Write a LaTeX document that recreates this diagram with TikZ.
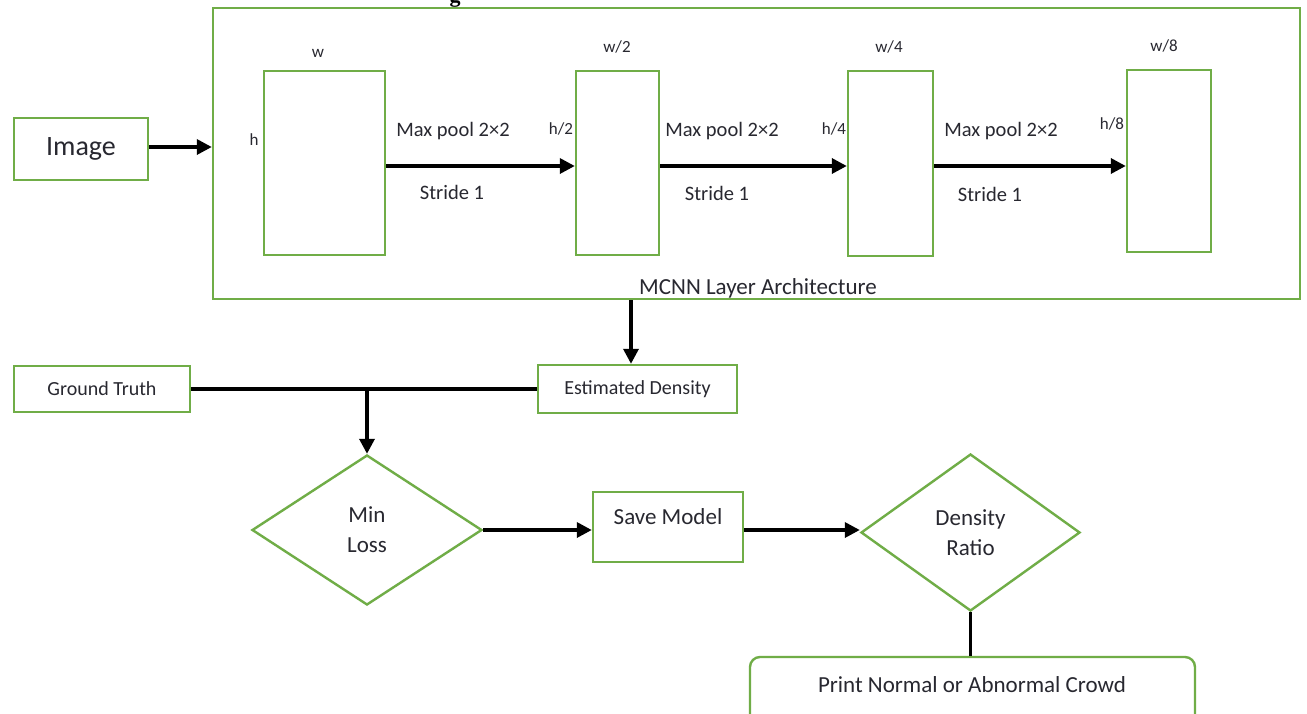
\documentclass[tikz,border=0pt]{standalone}
\usepackage{fontspec}
\setmainfont{Carlito}
\newfontfamily\capfont{Liberation Serif}
\usetikzlibrary{arrows.meta,shapes.geometric}
\definecolor{boxgreen}{RGB}{112,173,71}
\definecolor{ink}{RGB}{40,40,48}
\newcommand{\fsz}[1]{\fontsize{#1}{#1}\selectfont}
\tikzset{
  gbox/.style={draw=boxgreen, line width=2.4pt, rectangle, inner sep=0pt, text=ink},
  gdia/.style={draw=boxgreen, line width=2.4pt, diamond, inner sep=0pt, text=ink, align=center},
  lbl/.style={inner sep=0pt, text=ink},
  arr/.style={line width=3.4pt, -{Triangle[length=15pt,width=15pt]}},
  plain/.style={line width=3.4pt},
}
\begin{document}
\begin{tikzpicture}[x=1pt,y=-1pt]
\useasboundingbox (0,0) rectangle (1307,713);
\fill[white] (0,0) rectangle (1307,713);

% caption fragment above the frame
\node[anchor=south, inner sep=0pt, font=\capfont\bfseries\fsz{22}] (cap) at (455,8) {g};

% MCNN frame and input
\node[gbox, minimum width=1087pt, minimum height=291pt] (mcnn) at (756.5,153.5) {};
\node[lbl, font=\fsz{23}] (mcnnlbl) at (758,288) {MCNN Layer Architecture};
\node[gbox, minimum width=134pt, minimum height=62pt, font=\fsz{28}] (img) at (81,149) {Image};
\coordinate (yin) at (0,147);
\draw[arr] (img.east |- yin) -- (mcnn.west |- yin);

% feature maps
\node[gbox, minimum width=121pt, minimum height=184pt] (b1) at (324.5,163) {};
\node[gbox, minimum width=83pt, minimum height=184pt] (b2) at (617.5,163) {};
\node[gbox, minimum width=85pt, minimum height=185pt] (b3) at (890.5,163.5) {};
\node[gbox, minimum width=84pt, minimum height=182pt] (b4) at (1169,161) {};

\node[lbl, font=\fsz{17}] (w1) at (318,53) {w};
\node[lbl, font=\fsz{17}] (w2) at (617,47) {w/2};
\node[lbl, font=\fsz{17}] (w3) at (889,47) {w/4};
\node[lbl, font=\fsz{17}] (w4) at (1164,46) {w/8};
\node[lbl, font=\fsz{17}] (h1) at (254,140) {h};
\node[lbl, font=\fsz{17}] (h2) at (561,129) {h/2};
\node[lbl, font=\fsz{17}] (h3) at (834,129) {h/4};
\node[lbl, font=\fsz{17}] (h4) at (1112,124) {h/8};

\coordinate (ypool) at (0,166);
\draw[arr] (b1.east |- ypool) -- (b2.west |- ypool);
\draw[arr] (b2.east |- ypool) -- (b3.west |- ypool);
\draw[arr] (b3.east |- ypool) -- (b4.west |- ypool);

\node[lbl, font=\fsz{20.5}] (p1) at (453,131) {Max pool 2×2};
\node[lbl, font=\fsz{20.5}] (p2) at (722,131) {Max pool 2×2};
\node[lbl, font=\fsz{20.5}] (p3) at (1001,131) {Max pool 2×2};
\node[lbl, font=\fsz{20.5}] (s1) at (452,192) {Stride 1};
\node[lbl, font=\fsz{20.5}] (s2) at (717,193) {Stride 1};
\node[lbl, font=\fsz{20.5}] (s3) at (990,194) {Stride 1};

% density estimation and loss
\node[gbox, minimum width=199pt, minimum height=48pt, font=\fsz{20}] (ed) at (637.5,389) {Estimated Density};
\node[gbox, minimum width=176pt, minimum height=46pt, font=\fsz{20}] (gt) at (102,389) {Ground Truth};
\coordinate (xdown) at (631,0);
\draw[arr] (mcnn.south -| xdown) -- (ed.north -| xdown);

\node[gdia, minimum width=230pt, minimum height=150pt, font=\fsz{23}] (ml) at (367,530) {Min\\[7pt]Loss};
\draw[plain] (gt.east) -- (ed.west);
\coordinate (join) at (ml.north |- gt.east);
\draw[arr] (join) -- (ml.north);

\node[gbox, minimum width=150pt, minimum height=70pt] (sm) at (668,527) {};
\node[lbl, font=\fsz{23}] (smlbl) at (668,517) {Save Model};
\coordinate (yloss) at (0,530);
\draw[arr] (ml.east) -- (sm.west |- yloss);

\node[gdia, minimum width=219pt, minimum height=157pt, font=\fsz{23}] (dr) at (970.5,532.5) {Density\\[7pt]Ratio};
\draw[arr] (sm.east |- yloss) -- (dr.west |- yloss);

% final output
\node[gbox, rounded corners=10pt, minimum width=445pt, minimum height=80pt] (pr) at (972.5,697) {};
\node[lbl, font=\fsz{23}] (prlbl) at (972,685) {Print Normal or Abnormal Crowd};
\draw[plain] (dr.south) -- (dr.south |- pr.north);
\end{tikzpicture}
\end{document}
